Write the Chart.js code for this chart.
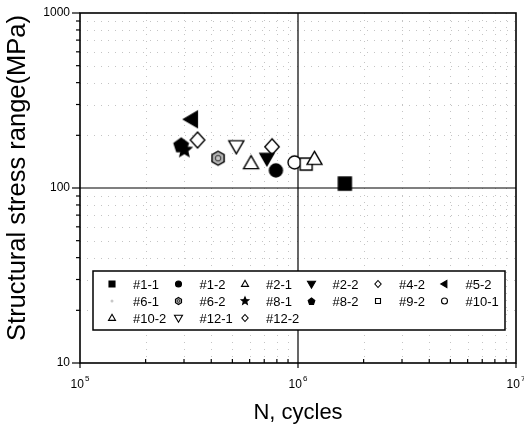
<!DOCTYPE html>
<html>
<head>
<meta charset="utf-8">
<script src="https://cdn.jsdelivr.net/npm/chart.js@4"></script>
<style>
  html, body { margin: 0; padding: 0; background: #fff; }
  #wrap { width: 524px; height: 430px; position: relative; }
</style>
</head>
<body>
<div id="wrap"><canvas id="sn"></canvas></div>
<script>
// fatigue test results: cycles to failure vs structural stress range (MPa)
var specimens = ['#1-1', '#1-2', '#2-1', '#2-2', '#4-2', '#5-2', '#6-1', '#6-2', '#8-1', '#8-2', '#9-2', '#10-1', '#10-2', '#12-1', '#12-2'];
var cycles = [1.64e6, 7.92e5, 1.19e6, 7.2e5, 7.6e5, 3.26e5, 4.3e5, 4.3e5, 3.01e5, 2.91e5, 1.09e6, 9.64e5, 6.09e5, 5.21e5, 3.46e5];
var stress = [106, 126, 146, 148, 172, 247, 148, 148, 165, 176, 137, 140, 138, 174, 188];

var xDecades = [1e5, 1e6, 1e7];
var xExp = ['5', '6', '7'];
var yDecades = [10, 100, 1000];
var yLabels = ['10', '100', '1000'];

// marker look for each specimen (plot size / legend size)
var markers = [
  { shape: 'square', fill: '#000', size: 13, leg: 6 },
  { shape: 'circle', fill: '#000', size: 13, leg: 6 },
  { shape: 'triUp', fill: '#fff', size: 15, leg: 7 },
  { shape: 'triDown', fill: '#000', size: 14, leg: 8 },
  { shape: 'diamond', fill: '#fff', size: 16, leg: 7 },
  { shape: 'triLeft', fill: '#000', size: 16, leg: 7 },
  { shape: 'dot', fill: '#c8c8c8', size: 3, leg: 3 },
  { shape: 'hexagon', fill: '#b4b4b4', size: 14, leg: 7 },
  { shape: 'star', fill: '#000', size: 15, leg: 8 },
  { shape: 'pentagon', fill: '#000', size: 15, leg: 7 },
  { shape: 'square', fill: '#fff', size: 12, leg: 5 },
  { shape: 'circle', fill: '#fff', size: 13, leg: 6 },
  { shape: 'triUp', fill: '#fff', size: 15, leg: 7 },
  { shape: 'triDown', fill: '#fff', size: 15, leg: 8 },
  { shape: 'diamond', fill: '#fff', size: 16, leg: 7 }
];

function polyPath(ctx, x, y, n, R, a0) {
  for (var k = 0; k < n; k++) {
    var a = a0 + k * 2 * Math.PI / n;
    if (k === 0) ctx.moveTo(x + R * Math.cos(a), y + R * Math.sin(a));
    else ctx.lineTo(x + R * Math.cos(a), y + R * Math.sin(a));
  }
  ctx.closePath();
}

function drawShape(ctx, m, x, y, s, lw) {
  var r = s / 2;
  ctx.beginPath();
  switch (m.shape) {
    case 'square': ctx.rect(x - r, y - r, s, s); break;
    case 'circle':
    case 'dot': ctx.arc(x, y, r, 0, Math.PI * 2); break;
    case 'diamond':
      ctx.moveTo(x, y - r); ctx.lineTo(x + r * 0.9, y);
      ctx.lineTo(x, y + r); ctx.lineTo(x - r * 0.9, y); ctx.closePath(); break;
    case 'triUp': polyPath(ctx, x, y + r * 0.1, 3, s / Math.sqrt(3), -Math.PI / 2); break;
    case 'triDown': polyPath(ctx, x, y - r * 0.1, 3, s / Math.sqrt(3), Math.PI / 2); break;
    case 'triLeft': polyPath(ctx, x + r * 0.1, y, 3, s / Math.sqrt(3), Math.PI); break;
    case 'pentagon': polyPath(ctx, x, y + 0.5, 5, r, -Math.PI / 2); break;
    case 'hexagon': polyPath(ctx, x, y, 6, r, -Math.PI / 2); break;
    case 'star':
      for (var k = 0; k < 10; k++) {
        var a = -Math.PI / 2 + k * Math.PI / 5;
        var rr = k % 2 ? r * 0.45 : r;
        if (k === 0) ctx.moveTo(x + rr * Math.cos(a), y + rr * Math.sin(a));
        else ctx.lineTo(x + rr * Math.cos(a), y + rr * Math.sin(a));
      }
      ctx.closePath(); break;
  }
  ctx.fillStyle = m.fill;
  ctx.fill();
  if (m.shape !== 'dot') {
    ctx.lineWidth = lw;
    ctx.strokeStyle = '#000';
    ctx.stroke();
  }
  if (m.shape === 'hexagon') {
    ctx.beginPath();
    ctx.arc(x, y, r * 0.4, 0, Math.PI * 2);
    ctx.lineWidth = 1;
    ctx.strokeStyle = '#333';
    ctx.stroke();
  }
}

function markerCanvas(m) {
  var c = document.createElement('canvas');
  var n = Math.ceil(m.size + 4);
  c.width = n; c.height = n;
  drawShape(c.getContext('2d'), m, n / 2, n / 2, m.size, 1.4);
  return c;
}

var datasets = [];
for (var i = 0; i < specimens.length; i++) {
  datasets.push({
    label: specimens[i],
    data: [{ x: cycles[i], y: stress[i] }],
    pointStyle: markerCanvas(markers[i]),
    pointRadius: 7
  });
}

function minorValues(decades) {
  var out = [];
  for (var d = 0; d < decades.length - 1; d++)
    for (var k = 2; k <= 9; k++) out.push(decades[d] * k);
  return out;
}

var FONT = '"Liberation Sans", Arial, sans-serif';

// axes box, grid, ticks, labels and the legend panel
var framePlugin = {
  id: 'frame',
  beforeDatasetsDraw: function (chart) {
    var ctx = chart.ctx, a = chart.chartArea;
    var xs = chart.scales.x, ys = chart.scales.y;
    var xMinor = minorValues(xDecades), yMinor = minorValues(yDecades);
    ctx.save();

    // faint dotted minor grid
    ctx.strokeStyle = '#c4c4c4';
    ctx.lineWidth = 1;
    ctx.setLineDash([1, 6]);
    xMinor.forEach(function (v) {
      var px = Math.round(xs.getPixelForValue(v)) + 0.5;
      ctx.beginPath(); ctx.moveTo(px, a.top); ctx.lineTo(px, a.bottom); ctx.stroke();
    });
    yMinor.forEach(function (v) {
      var py = Math.round(ys.getPixelForValue(v)) + 0.5;
      ctx.beginPath(); ctx.moveTo(a.left, py); ctx.lineTo(a.right, py); ctx.stroke();
    });
    ctx.setLineDash([]);

    // reference lines at 100 MPa and 10^6 cycles
    ctx.strokeStyle = '#000';
    ctx.lineWidth = 1.2;
    var gx = xs.getPixelForValue(1e6), gy = ys.getPixelForValue(100);
    ctx.beginPath(); ctx.moveTo(gx, a.top); ctx.lineTo(gx, a.bottom); ctx.stroke();
    ctx.beginPath(); ctx.moveTo(a.left, gy); ctx.lineTo(a.right, gy); ctx.stroke();

    // frame
    ctx.lineWidth = 1.6;
    ctx.strokeRect(a.left, a.top, a.right - a.left, a.bottom - a.top);

    // ticks
    ctx.lineWidth = 1.2;
    yDecades.forEach(function (v) {
      var py = ys.getPixelForValue(v);
      ctx.beginPath(); ctx.moveTo(a.left - 8, py); ctx.lineTo(a.left, py); ctx.stroke();
    });
    yMinor.forEach(function (v) {
      var py = ys.getPixelForValue(v);
      ctx.beginPath(); ctx.moveTo(a.left - 4, py); ctx.lineTo(a.left, py); ctx.stroke();
    });
    xDecades.forEach(function (v) {
      var px = xs.getPixelForValue(v);
      ctx.beginPath(); ctx.moveTo(px, a.bottom + 5); ctx.lineTo(px, a.bottom); ctx.stroke();
    });
    xMinor.forEach(function (v) {
      var px = xs.getPixelForValue(v);
      ctx.beginPath(); ctx.moveTo(px, a.bottom - 4); ctx.lineTo(px, a.bottom); ctx.stroke();
    });

    // tick labels
    ctx.fillStyle = '#000';
    ctx.font = '12px ' + FONT;
    ctx.textAlign = 'right';
    ctx.textBaseline = 'middle';
    yDecades.forEach(function (v, i) {
      ctx.fillText(yLabels[i], a.left - 10, ys.getPixelForValue(v));
    });
    ctx.textBaseline = 'alphabetic';
    xDecades.forEach(function (v, i) {
      var px = xs.getPixelForValue(v);
      ctx.font = '12px ' + FONT;
      var wb = ctx.measureText('10').width;
      ctx.font = '8px ' + FONT;
      var we = ctx.measureText(xExp[i]).width;
      var x0 = px - (wb + we + 1) / 2;
      ctx.textAlign = 'left';
      ctx.font = '12px ' + FONT;
      ctx.fillText('10', x0, a.bottom + 25);
      ctx.font = '8px ' + FONT;
      ctx.fillText(xExp[i], x0 + wb + 1, a.bottom + 18);
    });

    // axis titles
    ctx.textAlign = 'center';
    ctx.font = '22px ' + FONT;
    ctx.fillText('N, cycles', (a.left + a.right) / 2, 419);
    ctx.save();
    ctx.translate(25, 178);
    ctx.rotate(-Math.PI / 2);
    ctx.font = '25.5px ' + FONT;
    ctx.fillText('Structural stress range(MPa)', 0, 0);
    ctx.restore();

    // legend panel
    var L = a.left + 13, T = 271, R = 505, B = 330;
    ctx.fillStyle = '#fff';
    ctx.fillRect(L, T, R - L, B - T);
    ctx.lineWidth = 1.5;
    ctx.strokeStyle = '#000';
    ctx.strokeRect(L, T, R - L, B - T);
    var rows = [284, 301, 318];
    ctx.font = '13px ' + FONT;
    ctx.textAlign = 'left';
    ctx.textBaseline = 'middle';
    chart.data.datasets.forEach(function (ds, i) {
      var col = i % 6, row = Math.floor(i / 6);
      var mx = 112 + col * 66.5, my = rows[row];
      drawShape(ctx, markers[i], mx, my, markers[i].leg, 1.1);
      ctx.fillStyle = '#000';
      ctx.fillText(ds.label, mx + 21, my + 1);
    });
    ctx.restore();
  }
};

new Chart(document.getElementById('sn'), {
  type: 'scatter',
  data: { datasets: datasets },
  options: {
    responsive: true,
    maintainAspectRatio: false,
    animation: false,
    layout: { padding: { top: 13, right: 5, left: 0, bottom: 0 } },
    plugins: { legend: { display: false }, tooltip: { enabled: false } },
    scales: {
      x: {
        type: 'logarithmic', min: 1e5, max: 1e7,
        grid: { display: false }, border: { display: false },
        ticks: { display: false },
        afterFit: function (s) { s.height = 67; }
      },
      y: {
        type: 'logarithmic', min: 10, max: 1000,
        grid: { display: false }, border: { display: false },
        ticks: { display: false },
        afterFit: function (s) { s.width = 80; }
      }
    }
  },
  plugins: [framePlugin]
});
</script>
</body>
</html>
